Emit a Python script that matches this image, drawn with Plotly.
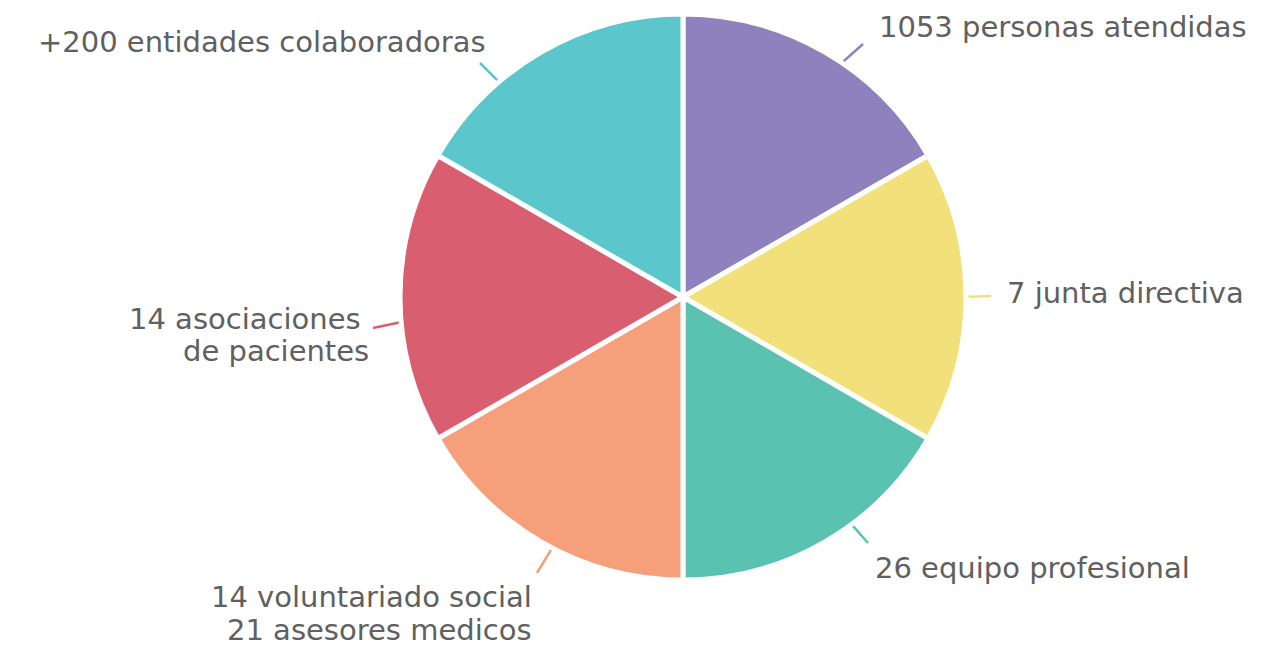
import math
import plotly.graph_objects as go

labels = ['1053 personas atendidas', '7 junta directiva', '26 equipo profesional',
          '14 voluntariado social<br>21 asesores medicos', '14 asociaciones<br>de pacientes',
          '+200 entidades colaboradoras']
values = [1, 1, 1, 1, 1, 1]
colors = ['#8E82BE', '#F2E17A', '#5AC2B0', '#F5A07A', '#D95F70', '#5BC6CC']

W, H = 1276, 649
off = 8  # the page body margin shifts the whole figure by this much
cx, cy, R = 683 - off, 297 - off, 283

fig = go.Figure(go.Pie(
    labels=labels,
    values=values,
    sort=False,
    direction='clockwise',
    rotation=0,
    marker=dict(colors=colors, line=dict(color='white', width=5)),
    textinfo='none',
    hoverinfo='label',
    showlegend=False,
    domain=dict(x=[(cx - R) / W, (cx + R) / W],
                y=[1 - (cy + R) / H, 1 - (cy - R) / H]),
))

# label placement (page pixels): angle where the leader starts, leader end, text anchor per line
label_pos = [
    (34, (863, 44), [(878, 27)], 'left'),
    (90, (991, 296), [(1006, 293)], 'left'),
    (143.5, (868, 543), [(874, 568)], 'left'),
    (207.5, (537, 573), [(533, 597), (533, 630)], 'right'),
    (265, (373, 328), [(362, 319), (370, 351)], 'right'),
    (319.5, (480, 63), [(487, 42)], 'right'),
]

def px(x):
    return (x - off) / W

def py(y):
    return 1 - (y - off) / H

for i, v in enumerate(values):
    ang, end, txts, anchor = label_pos[i]
    a = math.radians(ang)
    sx = cx + (R - 3) * math.sin(a)
    sy = cy - (R - 3) * math.cos(a)
    fig.add_shape(type='line', xref='paper', yref='paper',
                  x0=sx / W, y0=1 - sy / H, x1=px(end[0]), y1=py(end[1]),
                  line=dict(color=colors[i], width=2.5), layer='below')
    for line_text, (tx, ty) in zip(labels[i].split('<br>'), txts):
        fig.add_annotation(text=line_text, xref='paper', yref='paper',
                           x=px(tx), y=py(ty), xanchor=anchor, yanchor='middle',
                           showarrow=False, borderpad=0,
                           font=dict(family='DejaVu Sans', size=29, color='#606060'))

fig.update_layout(width=W, height=H, margin=dict(l=0, r=0, t=0, b=0),
                  paper_bgcolor='white', plot_bgcolor='white')
fig.write_html("out.html")
